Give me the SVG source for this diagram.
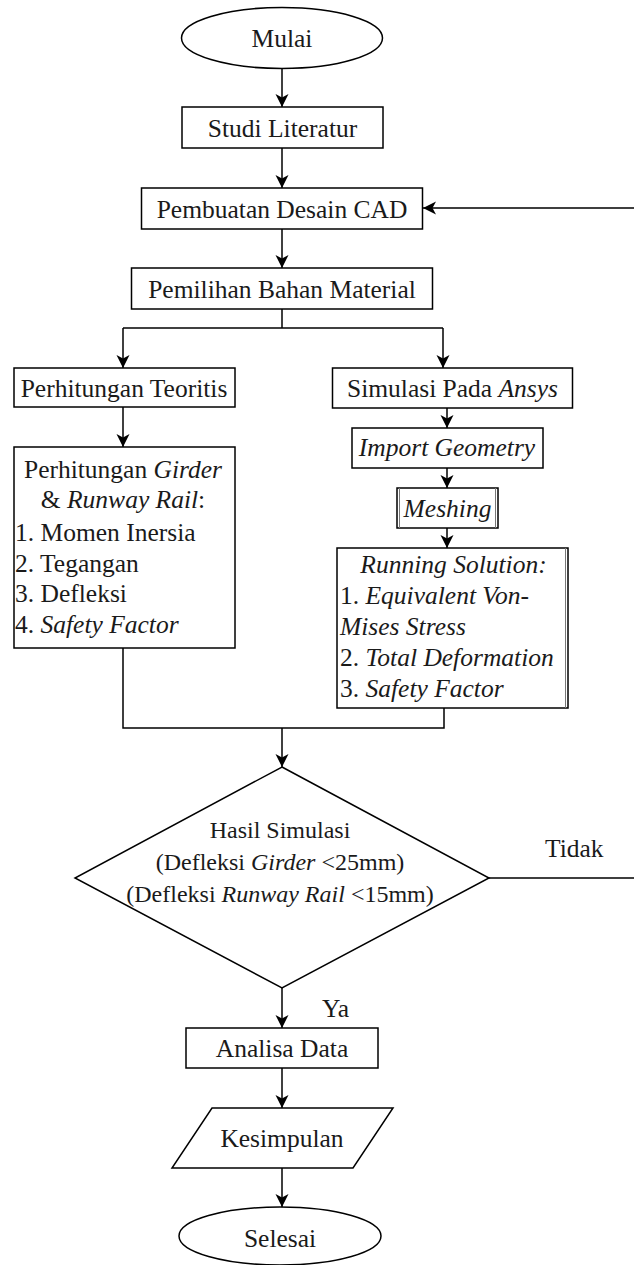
<svg xmlns="http://www.w3.org/2000/svg" width="634" height="1265" viewBox="0 0 634 1265">
<defs>
<marker id="ah" markerWidth="14" markerHeight="14" refX="13" refY="6.5" orient="auto" markerUnits="userSpaceOnUse">
<path d="M0,0 L13,6.5 L0,13 L3.5,6.5 z" fill="#000"/>
</marker>
<style>
.shape{fill:#fff;stroke:#000;stroke-width:1.5}
text{font-family:'Liberation Serif','Times New Roman',Times,'DejaVu Serif',serif;font-size:25.5px;fill:#1a1a1a}
.d{font-size:24px}
.c{text-anchor:middle}
.i{font-style:italic}
#connectors path{fill:none;stroke:#000;stroke-width:1.5}
</style>
</defs>
<rect width="634" height="1265" fill="#fff"/>

<g id="connectors">
<path d="M282,68 V107" marker-end="url(#ah)"/>
<path d="M282,148 V188" marker-end="url(#ah)"/>
<path d="M282,229 V268" marker-end="url(#ah)"/>
<path d="M282,309 V328"/>
<path d="M123,328 H443"/>
<path d="M123,328 V368" marker-end="url(#ah)"/>
<path d="M443,328 V368" marker-end="url(#ah)"/>
<path d="M123,407 V447" marker-end="url(#ah)"/>
<path d="M447,408 V428" marker-end="url(#ah)"/>
<path d="M447,468 V488" marker-end="url(#ah)"/>
<path d="M447,528 V548" marker-end="url(#ah)"/>
<path d="M123,648 V728 H444 V708"/>
<path d="M282,728 V767" marker-end="url(#ah)"/>
<path d="M489,878 H642 V208 H423" marker-end="url(#ah)"/>
<path d="M282,988 V1028" marker-end="url(#ah)"/>
<path d="M282,1068 V1108" marker-end="url(#ah)"/>
<path d="M282,1168 V1207" marker-end="url(#ah)"/>
</g>

<g id="mulai">
<ellipse class="shape" cx="282" cy="38" rx="100.5" ry="30.5"/>
<text class="c" x="282" y="47" font-family="Liberation Serif">Mulai</text>
</g>

<g id="studi">
<rect class="shape" x="182" y="107" width="201" height="41"/>
<text class="c" x="282.5" y="137">Studi Literatur</text>
</g>

<g id="desain">
<rect class="shape" x="141.5" y="188" width="281" height="41"/>
<text class="c" x="282" y="218">Pembuatan Desain CAD</text>
</g>

<g id="material">
<rect class="shape" x="131.5" y="268" width="301" height="41"/>
<text class="c" x="282" y="298">Pemilihan Bahan Material</text>
</g>

<g id="teoritis">
<rect class="shape" x="14" y="368" width="221" height="39"/>
<text class="c" x="124" y="397">Perhitungan Teoritis</text>
</g>

<g id="girder">
<rect class="shape" x="14" y="447" width="221" height="201"/>
<text class="c" x="123" y="478">Perhitungan <tspan class="i">Girder</tspan></text>
<text class="c" x="123" y="508">&amp; <tspan class="i">Runway Rail</tspan>:</text>
<text x="15" y="541">1. Momen Inersia</text>
<text x="15" y="572">2. Tegangan</text>
<text x="15" y="602">3. Defleksi</text>
<text x="15" y="633">4. <tspan class="i">Safety Factor</tspan></text>
</g>

<g id="ansys">
<rect class="shape" x="332.5" y="368" width="240" height="40"/>
<text class="c" x="452.5" y="397">Simulasi Pada <tspan class="i">Ansys</tspan></text>
</g>

<g id="import">
<rect class="shape" x="352" y="428" width="191" height="40"/>
<text class="c i" x="447" y="456">Import Geometry</text>
</g>

<g id="meshing">
<rect class="shape" x="397" y="488" width="101" height="40"/>
<path d="M399.5,488 V528 M495.5,488 V528" stroke="#777" stroke-width="1"/>
<text class="c i" x="447.5" y="517">Meshing</text>
</g>

<g id="running">
<rect class="shape" x="337" y="548" width="231" height="160"/>
<path d="M565.5,548 V708" stroke="#777" stroke-width="1"/>
<text class="c i" x="453.5" y="573">Running Solution:</text>
<text x="340" y="604">1. <tspan class="i">Equivalent Von-</tspan></text>
<text class="i" x="340" y="635">Mises Stress</text>
<text x="340" y="666">2. <tspan class="i">Total Deformation</tspan></text>
<text x="340" y="697">3. <tspan class="i">Safety Factor</tspan></text>
</g>

<g id="keputusan">
<polygon class="shape" points="282,767 489,878 282,988 75,878"/>
<text class="d c" x="280" y="838">Hasil Simulasi</text>
<text class="d c" x="280" y="870">(Defleksi <tspan class="i">Girder</tspan> &lt;25mm)</text>
<text class="d c" x="280" y="902">(Defleksi <tspan class="i">Runway Rail</tspan> &lt;15mm)</text>
</g>

<g id="label-tidak">
<text x="545" y="857">Tidak</text>
</g>
<g id="label-ya">
<text x="322" y="1017">Ya</text>
</g>

<g id="analisa">
<rect class="shape" x="186" y="1028" width="192" height="40"/>
<text class="c" x="282" y="1057">Analisa Data</text>
</g>

<g id="kesimpulan">
<polygon class="shape" points="212,1108 393,1108 353,1168 172,1168"/>
<text class="c" x="282" y="1147">Kesimpulan</text>
</g>

<g id="selesai">
<ellipse class="shape" cx="280" cy="1236" rx="101" ry="29"/>
<text class="c" x="280" y="1247">Selesai</text>
</g>
</svg>
